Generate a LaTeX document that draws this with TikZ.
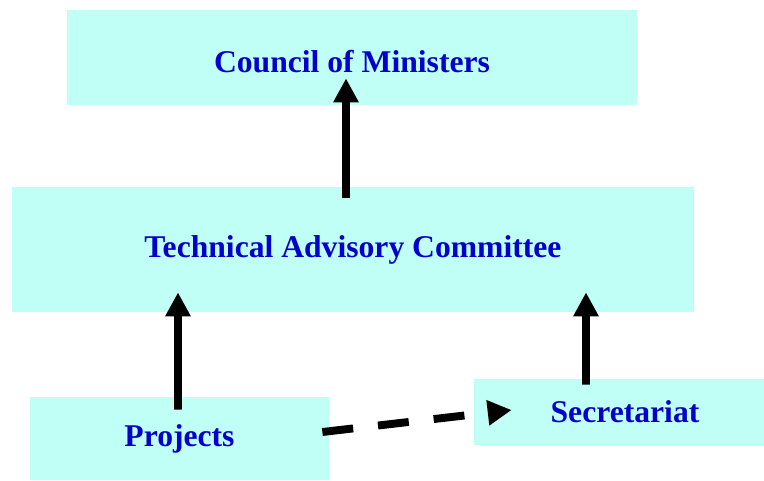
\documentclass[tikz,border=0pt]{standalone}
\usepackage{fontspec}
\setmainfont{Liberation Serif}
\usepackage{xcolor}
\usepackage{tikz}
\usetikzlibrary{positioning,arrows.meta}
\definecolor{BoxCyan}{HTML}{C0FFF6}
\definecolor{TextBlue}{HTML}{0000CC}

\begin{document}
\begin{tikzpicture}[
        body/.style={rectangle, fill=BoxCyan, draw=none, inner sep=0pt, font=\fontsize{18}{22}\selectfont\bfseries\color{TextBlue}},
        arrow/.style={draw=black, line width=4.5pt, -{Triangle[length=0.48cm,width=0.48cm]}},
        dasharrow/.style={arrow, dash pattern=on 0.62cm off 0.5cm}
    ]
        \useasboundingbox (0,0) rectangle (15.28,9.6);

        % boxes
        \node [body, minimum width=11.4cm, minimum height=1.9cm, text height=0.62cm] (council) at (7.04,8.45) {Council of Ministers};
        \node [body, minimum width=13.64cm, minimum height=2.5cm] (tac) at (7.06,4.61) {Technical Advisory Committee};
        \node [body, minimum width=5.98cm, minimum height=1.66cm] (projects) at (3.59,0.83) {Projects};
        \node [body, minimum width=5.8cm, minimum height=1.32cm] (secretariat) at (12.38,1.36) {\hspace{0.24cm}Secretariat};

        % reporting lines
        \draw [arrow] ([xshift=-0.14cm,yshift=-0.22cm]tac.north) -- ([xshift=-0.12cm,yshift=0.54cm]council.south);
        \draw [arrow] ([xshift=-0.03cm,yshift=-0.26cm]projects.north) -- ([xshift=-3.5cm,yshift=0.4cm]tac.south);
        \draw [arrow] ([xshift=-0.66cm,yshift=-0.12cm]secretariat.north) -- ([xshift=4.66cm,yshift=0.4cm]tac.south);
        \draw [dasharrow] ([xshift=-0.14cm,yshift=0.13cm]projects.east) -- ([xshift=0.76cm,yshift=0.04cm]secretariat.west);
    \end{tikzpicture}
\end{document}
